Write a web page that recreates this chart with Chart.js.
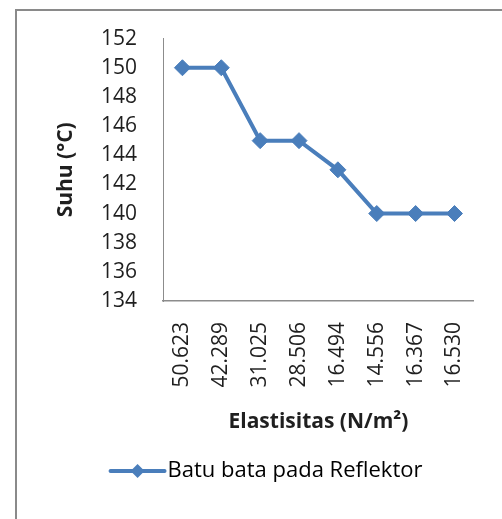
<!DOCTYPE html>
<html>
<head>
<meta charset="utf-8">
<script src="https://cdn.jsdelivr.net/npm/chart.js@4/dist/chart.umd.min.js"></script>
<style>
  html, body { margin: 0; padding: 0; background: #ffffff; }
  #wrap { position: relative; width: 502px; height: 519px; }
  canvas { display: block; }
</style>
</head>
<body>
<div id="wrap"><canvas id="c" width="502" height="519"></canvas></div>
<script>
// ---- data ----
const categories = ['50.623', '42.289', '31.025', '28.506', '16.494', '14.556', '16.367', '16.530'];
const suhu = [150, 150, 145, 145, 143, 140, 140, 140];
const yMin = 134;
const yMax = 152;
const yStep = 2;
const seriesName = 'Batu bata pada Reflektor';
const xTitle = 'Elastisitas (N/m\u00B2)';
const yTitle = 'Suhu (\u00B0C)';

const FONT = '"Open Sans", Lato, "DejaVu Sans", sans-serif';
const LINE = '#4A7EBB';
const AXIS = '#8C8C8C';
const TEXT = '#1F1F1F';

const frame = {
  id: 'frame',
  beforeDraw(chart) {
    const ctx = chart.ctx;
    ctx.save();
    ctx.strokeStyle = '#8A8A8A';
    ctx.lineWidth = 2;
    ctx.beginPath();
    ctx.moveTo(16, 519);
    ctx.lineTo(16, 10);
    ctx.lineTo(502, 10);
    ctx.stroke();
    ctx.restore();
  }
};

const legendMarker = {
  id: 'legendMarker',
  afterDraw(chart) {
    const boxes = chart.legend && chart.legend.legendHitBoxes;
    if (!boxes || !boxes.length) return;
    const hb = boxes[0];
    const ctx = chart.ctx;
    const y = hb.top + hb.height / 2;
    const x0 = hb.left + 2;
    const x1 = hb.left + 56;
    ctx.save();
    ctx.strokeStyle = LINE;
    ctx.lineWidth = 4;
    ctx.lineCap = 'round';
    ctx.beginPath();
    ctx.moveTo(x0, y);
    ctx.lineTo(x1, y);
    ctx.stroke();
    const cx = (x0 + x1) / 2;
    const r = 7;
    ctx.fillStyle = LINE;
    ctx.beginPath();
    ctx.moveTo(cx, y - r);
    ctx.lineTo(cx + r, y);
    ctx.lineTo(cx, y + r);
    ctx.lineTo(cx - r, y);
    ctx.closePath();
    ctx.fill();
    ctx.restore();
  }
};

new Chart(document.getElementById('c'), {
  type: 'line',
  data: {
    labels: categories,
    datasets: [{
      label: seriesName,
      data: suhu,
      borderColor: LINE,
      backgroundColor: LINE,
      borderWidth: 4,
      pointStyle: 'rectRot',
      pointRadius: 8,
      pointBorderWidth: 1,
      pointBorderColor: LINE,
      pointBackgroundColor: LINE,
      tension: 0,
      fill: false
    }]
  },
  options: {
    responsive: false,
    animation: false,
    devicePixelRatio: 1,
    layout: { padding: { left: 50, right: 21, top: 37, bottom: 27 } },
    plugins: {
      legend: {
        position: 'bottom',
        labels: {
          font: { family: FONT, size: 22 },
          color: TEXT,
          boxWidth: 48,
          padding: 24,
          generateLabels: (chart) => [{
            text: seriesName,
            fillStyle: 'rgba(0,0,0,0)',
            strokeStyle: 'rgba(0,0,0,0)',
            lineWidth: 0,
            hidden: false,
            datasetIndex: 0
          }]
        }
      },
      tooltip: { enabled: false },
      title: { display: false }
    },
    scales: {
      x: {
        type: 'category',
        offset: true,
        grid: { display: false, drawTicks: false },
        border: { display: true, color: AXIS, width: 1.5 },
        ticks: {
          minRotation: 90, maxRotation: 90, autoSkip: false,
          padding: 21,
          font: { family: FONT, size: 21 },
          color: TEXT
        },
        title: {
          display: true, text: xTitle, color: TEXT,
          font: { family: FONT, size: 21, weight: 'bold' },
          padding: { top: 0, bottom: 1 }
        },
        afterFit(scale) { scale.height = 135; }
      },
      y: {
        min: yMin, max: yMax,
        grid: { display: false, drawTicks: false },
        border: { display: true, color: AXIS, width: 1 },
        ticks: {
          stepSize: yStep,
          padding: 26,
          font: { family: FONT, size: 21 },
          color: TEXT
        },
        title: {
          display: true, text: yTitle, color: TEXT,
          font: { family: FONT, size: 21, weight: 'bold' },
          padding: { top: 3, bottom: 0 }
        },
        afterFit(scale) { scale.width = 113; }
      }
    }
  },
  plugins: [frame, legendMarker]
});
</script>
</body>
</html>
